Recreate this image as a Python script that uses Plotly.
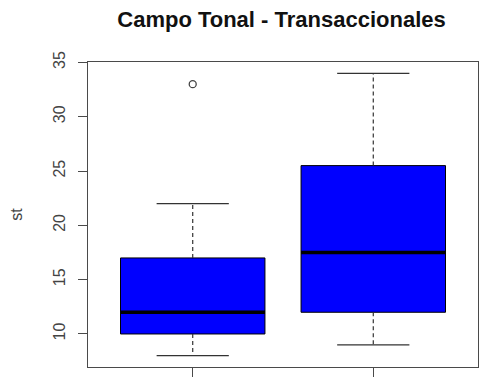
import plotly.graph_objects as go

# data (R boxplot statistics)
groups = [1, 2]
lower_whisker = [8, 9]
q1 = [10, 12]
median = [12, 17.5]
q3 = [17, 25.5]
upper_whisker = [22, 34]
outlier_x = [1]
outlier_y = [33]
y_ticks = [10, 15, 20, 25, 30, 35]

axis_col = "#4a4a4a"
box_w = 0.8
cap_w = 0.4

fig = go.Figure()

# boxes (no plotly whiskers, drawn separately as dashed lines)
fig.add_trace(go.Box(
    x=groups, q1=q1, median=median, q3=q3,
    lowerfence=q1, upperfence=q3,
    width=box_w, fillcolor="#0000ff",
    line=dict(color="#000000", width=1),
    whiskerwidth=0, boxpoints=False, showlegend=False, hoverinfo="skip",
))

# dashed whiskers
wx, wy = [], []
for g, lo, a, b, hi in zip(groups, lower_whisker, q1, q3, upper_whisker):
    wx += [g, g, None, g, g, None]
    wy += [b, hi, None, a, lo, None]
fig.add_trace(go.Scatter(x=wx, y=wy, mode="lines",
                         line=dict(color="#333333", width=1.2, dash="4px,3px"),
                         showlegend=False, hoverinfo="skip"))

# whisker caps
cx, cy = [], []
for g, lo, hi in zip(groups, lower_whisker, upper_whisker):
    cx += [g - cap_w / 2, g + cap_w / 2, None, g - cap_w / 2, g + cap_w / 2, None]
    cy += [hi, hi, None, lo, lo, None]
fig.add_trace(go.Scatter(x=cx, y=cy, mode="lines",
                         line=dict(color="#333333", width=1.2),
                         showlegend=False, hoverinfo="skip"))

# thick median lines
mx, my = [], []
for g, m in zip(groups, median):
    mx += [g - box_w / 2, g + box_w / 2, None]
    my += [m, m, None]
fig.add_trace(go.Scatter(x=mx, y=my, mode="lines",
                         line=dict(color="#000000", width=3.5),
                         showlegend=False, hoverinfo="skip"))

# outlier
fig.add_trace(go.Scatter(x=outlier_x, y=outlier_y, mode="markers",
                         marker=dict(symbol="circle-open", size=7,
                                     color="#444444", line=dict(width=1.3)),
                         showlegend=False, hoverinfo="skip"))

W, H = 482, 382  # page has an 8px body margin
fig.update_layout(
    width=W, height=H,
    margin=dict(l=80, r=12, t=54, b=23, autoexpand=False),
    paper_bgcolor="white", plot_bgcolor="white",
    title=dict(text="<b>Campo Tonal - Transaccionales</b>",
               x=273.5 / W, xanchor="center",
               yref="container", y=1 - 11.5 / H, yanchor="middle",
               font=dict(family="Liberation Sans, Arial", size=22, color="#111111")),
    font=dict(family="Liberation Sans, Arial", color="#444444"),
    xaxis=dict(range=[0.42, 2.58], tickvals=groups, ticktext=["", ""],
               ticks="outside", ticklen=9, tickcolor=axis_col, tickwidth=1,
               showline=True, linecolor=axis_col, linewidth=1, mirror=True,
               showgrid=False, zeroline=False, fixedrange=True, automargin=False),
    yaxis=dict(range=[6.96, 35.04], tickvals=y_ticks,
               ticks="outside", ticklen=9, tickcolor=axis_col, tickwidth=1,
               tickangle=-90, tickfont=dict(size=16, color="#444444"),
               ticklabelstandoff=7, automargin=False,
               showline=True, linecolor=axis_col, linewidth=1, mirror=True,
               showgrid=False, zeroline=False,
               title=dict(text="st", font=dict(size=16, color="#444444"), standoff=26)),
)

fig.write_html("out.html")
